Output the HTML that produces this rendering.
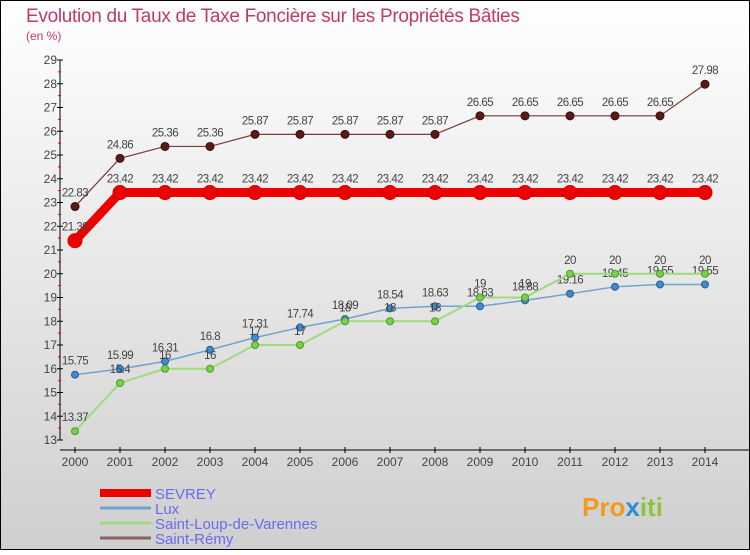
<!DOCTYPE html>
<html><head><meta charset="utf-8"><style>
html,body{margin:0;padding:0}
body{width:750px;height:550px;overflow:hidden;font-family:"Liberation Sans",sans-serif}
</style></head><body>
<svg id="chart" width="750" height="550" xmlns="http://www.w3.org/2000/svg">
<defs><linearGradient id="bg" x1="0" y1="0" x2="0" y2="1"><stop offset="0" stop-color="#ffffff"/><stop offset="1" stop-color="#cfcfcf"/></linearGradient></defs>
<rect x="0.5" y="0.5" width="749" height="549" fill="url(#bg)" stroke="#000"/>
<text x="26" y="22" font-size="19" fill="#c0396b" letter-spacing="-0.3">Evolution du Taux de Taxe Foncière sur les Propriétés Bâties</text>
<text x="26" y="40" font-size="12" fill="#c0396b">(en %)</text>
<g id="axes"></g><g id="series"></g><g id="legend"></g>
<text x="582" y="516" font-size="26" font-weight="bold" fill="#f39a1d">Pro<tspan fill="#2a8fd6">x</tspan><tspan fill="#8cc43f">iti</tspan></text>
</svg>
<script>
const years=[2000,2001,2002,2003,2004,2005,2006,2007,2008,2009,2010,2011,2012,2013,2014];
const sevrey=[21.39,23.42,23.42,23.42,23.42,23.42,23.42,23.42,23.42,23.42,23.42,23.42,23.42,23.42,23.42];
const lux=[15.75,15.99,16.31,16.8,17.31,17.74,18.09,18.54,18.63,18.63,18.88,19.16,19.45,19.55,19.55];
const saintLoup=[13.37,15.4,16,16,17,17,18,18,18,19,19,20,20,20,20];
const saintRemy=[22.83,24.86,25.36,25.36,25.87,25.87,25.87,25.87,25.87,26.65,26.65,26.65,26.65,26.65,27.98];
const yTicks=[13,14,15,16,17,18,19,20,21,22,23,24,25,26,27,28,29];
const NS="http://www.w3.org/2000/svg";
const X=i=>75+i*45;
const Y=v=>440-(v-13)*23.75;
function mk(p,t,a){const e=document.createElementNS(NS,t);for(const k in a)e.setAttribute(k,a[k]);p.appendChild(e);return e;}
const ax=document.getElementById('axes');
const yl=mk(ax,'line',{x1:60,y1:Y(29),x2:60,y2:Y(13),stroke:'#000'});


const xl=mk(ax,'line',{x1:60,y1:450,x2:750,y2:450,stroke:'#000'});


yTicks.forEach(v=>{
 mk(ax,'line',{x1:57,y1:Y(v),x2:63,y2:Y(v),stroke:'#000'});
 if(v<29)mk(ax,'line',{x1:58,y1:Y(v+0.5),x2:61,y2:Y(v+0.5),stroke:'#e00'});
 const t=mk(ax,'text',{x:57,y:Y(v)+4,'font-size':12,'text-anchor':'end',fill:'#444'});
 t.textContent=v;
 
 
});
years.forEach((yr,i)=>{
 mk(ax,'line',{x1:X(i),y1:447,x2:X(i),y2:453,stroke:'#000'});
 const t=mk(ax,'text',{x:X(i),y:466,'font-size':12,'text-anchor':'middle',fill:'#444'});
 t.textContent=yr;
 
 
});
const sg=document.getElementById('series');
function draw(data,name,color,w,r,dot,dotStroke){
 const g=mk(sg,'g',{});
 
 
 const pl=mk(g,'polyline',{points:data.map((v,i)=>X(i)+','+Y(v)).join(' '),fill:'none',stroke:color,'stroke-width':w,'stroke-linejoin':'round'});
 
 
 data.forEach((v,i)=>{
  const c=mk(g,'circle',{cx:X(i),cy:Y(v),r:r,fill:dot,stroke:dotStroke,'stroke-width':1});
  
  
  const t=mk(g,'text',{x:X(i),y:Y(v)-10,'font-size':11.5,'text-anchor':'middle',fill:'#444','letter-spacing':'-0.5'});
  t.textContent=v;
  
  
 });
}
draw(saintRemy,'saint-remy','#7a3a3a',1.2,4,'#5a1a1a','#3a0a0a');
draw(lux,'lux','#6fa3cf',1.5,3.5,'#3f8ad0','#2a5f90');
draw(saintLoup,'saint-loup','#9edb7a',2,3.5,'#7bd04a','#4a9a2a');
draw(sevrey,'sevrey','#ee0000',9,7,'#ee0000','#cc0000');
const lg=document.getElementById('legend');
const items=[['SEVREY','#ee0000',8],['Lux','#6fa3cf',3],['Saint-Loup-de-Varennes','#9edb7a',3],['Saint-Rémy','#8a6060',3]];
items.forEach((it,i)=>{
 const y=493+i*15;
 const g=mk(lg,'g',{});
 
 
 mk(g,'line',{x1:100,y1:y,x2:151,y2:y,stroke:it[1],'stroke-width':it[2]});
 const t=mk(g,'text',{x:155,y:y+6,'font-size':15,fill:'#6a6af0'});
 t.textContent=it[0];
});
</script>
</body></html>
